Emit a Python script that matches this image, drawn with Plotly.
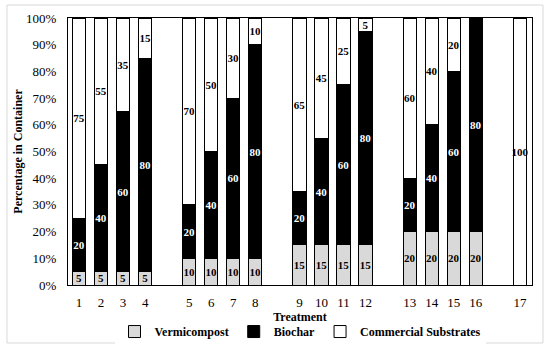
import plotly.graph_objects as go

treatments = [str(i) for i in range(1, 18)]
vermicompost = [5, 5, 5, 5, 10, 10, 10, 10, 15, 15, 15, 15, 20, 20, 20, 20, 0]
biochar = [20, 40, 60, 80, 20, 40, 60, 80, 20, 40, 60, 80, 20, 40, 60, 80, 0]
commercial = [75, 55, 35, 15, 70, 50, 30, 10, 65, 45, 25, 5, 60, 40, 20, 0, 100]

# groups of four treatments separated by an empty slot
xpos = [i + i // 4 for i in range(len(treatments))]

FONT = "Liberation Serif"

def lbl(vals):
    return [str(v) if v > 0 else "" for v in vals]

fig = go.Figure()
series = [
    ("Vermicompost", vermicompost, "#d9d9d9", "#000000"),
    ("Biochar", biochar, "#000000", "#ffffff"),
    ("Commercial Substrates", commercial, "#ffffff", "#000000"),
]
for name, vals, color, tcolor in series:
    fig.add_trace(go.Bar(
        x=xpos, y=vals, name=name,
        marker=dict(color=color, line=dict(color="#000000", width=1)),
        width=0.6,
        text=lbl(vals), textposition="inside", insidetextanchor="middle",
        textangle=0, constraintext="none",
        textfont=dict(family=FONT, size=11, color=tcolor, weight="bold"),
        hoverinfo="skip",
    ))

fig.update_layout(
    barmode="stack",
    width=550, height=350,
    margin=dict(l=68, r=18, t=18, b=65, autoexpand=False),
    paper_bgcolor="white", plot_bgcolor="white",
    font=dict(family=FONT, size=12, color="#000000"),
    uniformtext=dict(minsize=11, mode="show"),
    showlegend=True,
    legend=dict(orientation="h", x=0.5, xanchor="center", y=-0.12, yanchor="top",
                font=dict(family=FONT, size=12, weight="bold"),
                itemwidth=30, tracegroupgap=0, traceorder="normal"),
    xaxis=dict(range=[-0.5, 20.55], tickvals=xpos, ticktext=treatments,
               showgrid=False, zeroline=False, showline=True, mirror=True,
               linecolor="#000000", linewidth=1, ticks="", ticklabelstandoff=5,
               tickfont=dict(family=FONT, size=13), automargin=False,
               title=dict(text="Treatment", font=dict(family=FONT, size=12, weight="bold"), standoff=3)),
    yaxis=dict(range=[0, 100], tickvals=list(range(0, 101, 10)),
               ticktext=[f"{v}%" for v in range(0, 101, 10)],
               showgrid=False, zeroline=False, showline=True, mirror=True,
               linecolor="#000000", linewidth=1, ticks="", ticklabelstandoff=8,
               tickfont=dict(family=FONT, size=13), automargin=False,
               title=dict(text="Percentage in Container", font=dict(family=FONT, size=12, weight="bold"), standoff=0)),
    shapes=[dict(type="rect", xref="paper", yref="paper",
                 x0=-0.1315, x1=1.0237, y0=-0.2172, y1=1.0487,
                 line=dict(color="#d9d9d9", width=1), fillcolor="rgba(0,0,0,0)", layer="below")],
)

fig.write_html("out.html", config={"displayModeBar": False},
               post_script="document.body.style.margin='0';document.body.style.overflow='hidden';")
